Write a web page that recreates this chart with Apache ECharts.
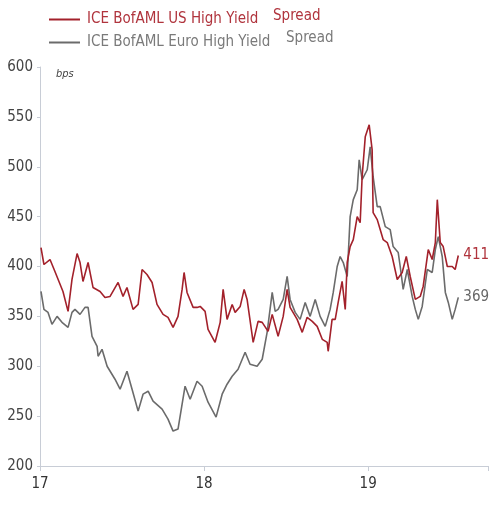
<!DOCTYPE html>
<html><head><meta charset="utf-8">
<script src="https://cdn.jsdelivr.net/npm/echarts@6/dist/echarts.min.js"></script>
<style>html,body{margin:0;padding:0;background:#fff}#c{width:500px;height:508px}</style>
</head><body><div id="c"></div>
<script>
var FONT = "'Liberation Sans Narrow','DejaVu Sans Condensed','Roboto',sans-serif";
var xTickLabels = ['17','18','19'];
var yTickLabels = ['200','250','300','350','400','450','500','550','600'];
var seriesNames = ['ICE BofAML US High Yield', 'ICE BofAML Euro High Yield'];
// time in years (17 = start of 2017)
var usT = [17.006,17.024,17.061,17.091,17.140,17.171,17.195,17.226,17.244,17.262,17.293,17.323,17.366,17.396,17.427,17.476,17.506,17.530,17.567,17.598,17.622,17.652,17.683,17.713,17.750,17.780,17.811,17.841,17.866,17.878,17.896,17.933,17.957,17.976,18.006,18.024,18.067,18.098,18.116,18.140,18.171,18.189,18.220,18.244,18.262,18.299,18.329,18.354,18.390,18.415,18.451,18.482,18.506,18.524,18.567,18.598,18.628,18.659,18.689,18.720,18.750,18.756,18.780,18.799,18.817,18.841,18.860,18.872,18.890,18.909,18.933,18.951,18.963,18.982,19.006,19.024,19.030,19.055,19.073,19.091,19.116,19.146,19.177,19.207,19.232,19.256,19.287,19.317,19.335,19.366,19.390,19.409,19.421,19.439,19.457,19.482,19.512,19.530,19.549];
var usV = [419,402,407,395,375,355,387,413,404,385,404,379,375,369,370,384,370,379,357,362,397,392,384,362,352,349,339,350,377,394,374,359,359,360,355,337,324,344,377,347,362,354,360,377,367,324,345,344,335,352,330,350,377,359,347,334,349,345,340,327,324,315,347,347,364,385,357,404,420,427,450,444,490,530,542,517,454,447,437,427,424,410,387,394,410,390,367,370,380,417,407,424,467,424,420,400,400,397,411];
var euT = [17.006,17.024,17.049,17.073,17.104,17.134,17.171,17.195,17.213,17.244,17.274,17.293,17.317,17.348,17.354,17.378,17.409,17.457,17.488,17.530,17.561,17.598,17.628,17.659,17.689,17.744,17.780,17.811,17.841,17.884,17.915,17.957,17.988,18.024,18.073,18.110,18.140,18.171,18.207,18.250,18.280,18.323,18.354,18.384,18.415,18.433,18.451,18.482,18.506,18.524,18.555,18.585,18.616,18.646,18.677,18.707,18.738,18.768,18.787,18.811,18.829,18.848,18.872,18.890,18.909,18.933,18.945,18.963,18.994,19.012,19.030,19.055,19.073,19.104,19.134,19.152,19.183,19.195,19.213,19.238,19.268,19.287,19.305,19.329,19.360,19.390,19.409,19.427,19.451,19.470,19.488,19.512,19.530,19.549];
var euV = [375,357,354,342,350,344,339,354,357,352,359,359,330,320,310,317,300,287,277,295,277,255,272,275,265,257,247,235,237,280,267,285,280,264,249,272,282,290,297,314,302,300,307,334,374,355,357,367,390,367,354,347,364,350,367,350,340,357,374,400,410,404,390,450,467,477,507,487,497,520,490,460,460,440,437,420,414,400,377,397,370,357,347,360,397,394,417,430,410,374,364,347,357,369];

function pairs(t, v) { return t.map(function (x, i) { return [x, v[i]]; }); }
var RED = '#a3212b', GREY = '#6b6b6b';
var RED_TXT = '#b0343d', GREY_TXT = '#7a7a7a';

var chart = echarts.init(document.getElementById('c'), null, {renderer: 'canvas'});
chart.setOption({
  animation: false,
  backgroundColor: '#fff',
  grid: {left: 40, right: 12, top: 67, bottom: 42, containLabel: false},
  legend: {
    orient: 'vertical', left: 44, top: 7, itemGap: 8,
    itemWidth: 31, itemHeight: 2, icon: 'rect',
    data: [
      {name: seriesNames[0], textStyle: {color: RED_TXT}},
      {name: seriesNames[1], textStyle: {color: GREY_TXT}}
    ],
    textStyle: {fontFamily: FONT, fontSize: 15, padding: [0, 0, 0, 2]}
  },
  xAxis: {
    type: 'value', min: 17, max: 19.73, interval: 1,
    axisLine: {show: true, lineStyle: {color: '#c8cdd6', width: 1}},
    axisTick: {show: true, length: 5, lineStyle: {color: '#c8cdd6'}},
    splitLine: {show: false},
    axisLabel: {fontFamily: FONT, fontSize: 15, color: '#333', margin: 11,
      formatter: function (v) { var i = Math.round(v) - 17; return xTickLabels[i] !== undefined ? xTickLabels[i] : ''; }}
  },
  yAxis: {
    type: 'value', min: 200, max: 600, interval: 50,
    axisLine: {show: true, lineStyle: {color: '#c8cdd6', width: 1}},
    axisTick: {show: true, length: 3, lineStyle: {color: '#c8cdd6'}},
    splitLine: {show: false},
    axisLabel: {fontFamily: FONT, fontSize: 15, color: '#444', margin: 7,
      formatter: function (v) { var i = Math.round((v - 200) / 50); return yTickLabels[i] || ''; }}
  },
  graphic: [
    {type: 'text', left: 273, top: 9, style: {text: 'Spread', fontFamily: FONT, fontSize: 15, fill: RED_TXT}},
    {type: 'text', left: 286, top: 31, style: {text: 'Spread', fontFamily: FONT, fontSize: 15, fill: GREY_TXT}},
    {type: 'text', left: 56, top: 69, style: {text: 'bps', fontFamily: FONT, fontSize: 11, fontStyle: 'italic', fill: '#444'}}
  ],
  series: [
    {name: seriesNames[0], type: 'line', data: pairs(usT, usV), showSymbol: false, symbol: 'none',
      lineStyle: {color: RED, width: 1.6}, itemStyle: {color: RED}, z: 3,
      endLabel: {show: true, distance: 5, fontFamily: FONT, fontSize: 15, color: RED_TXT,
        formatter: function (p) { return String(p.value[1]); }}},
    {name: seriesNames[1], type: 'line', data: pairs(euT, euV), showSymbol: false, symbol: 'none',
      lineStyle: {color: GREY, width: 1.6}, itemStyle: {color: GREY}, z: 2,
      endLabel: {show: true, distance: 5, fontFamily: FONT, fontSize: 15, color: '#666',
        formatter: function (p) { return String(p.value[1]); }}}
  ]
});
</script></body></html>
